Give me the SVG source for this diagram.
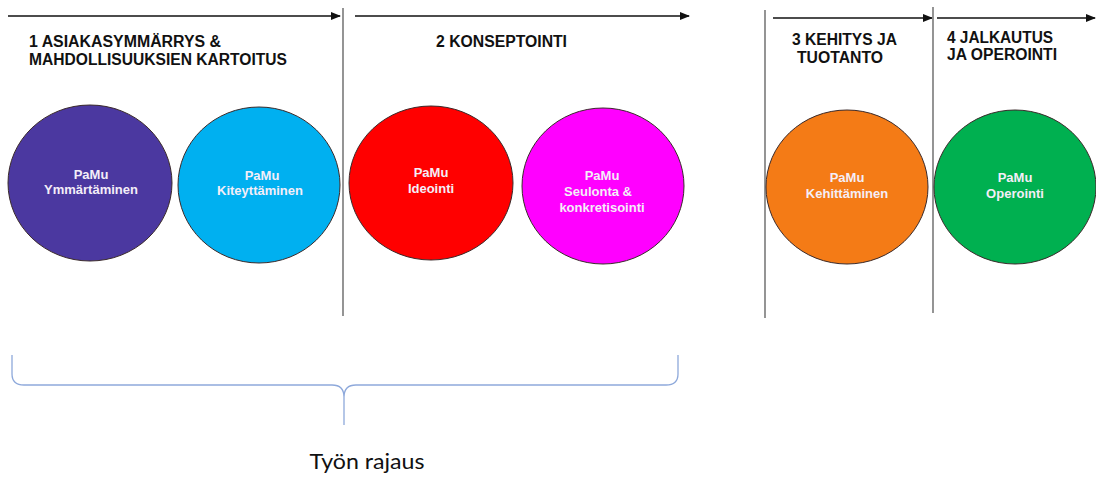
<svg xmlns="http://www.w3.org/2000/svg" width="1096" height="477" viewBox="0 0 1096 477">
<style>
.phase{font-family:"Liberation Sans",Arial,sans-serif;font-weight:bold;font-size:16px;fill:#111}
.node ellipse{stroke:#3a2a2a;stroke-width:1}
.node text{font-family:"Liberation Sans",Arial,sans-serif;font-weight:bold;font-size:13px;fill:#f4eef8;text-anchor:middle}
.arrow{stroke:#111;stroke-width:1.5;fill:none;marker-end:url(#ah)}
.divider{stroke:#7a7a7a;stroke-width:1.6}
.brace{stroke:#8ea9db;stroke-width:1.3;fill:none}
.label{font-family:"Lato","Open Sans",sans-serif;font-size:22px;fill:#111;text-anchor:middle}
</style>
<defs>
<marker id="ah" markerWidth="10" markerHeight="8" refX="9" refY="4" orient="auto" markerUnits="userSpaceOnUse">
<path d="M0,0 L10,4 L0,8 Z" fill="#111"/>
</marker>
</defs>
<rect width="1096" height="477" fill="#fff"/>
<g id="connectors">
<line class="arrow" x1="8" y1="16" x2="340" y2="16"/>
<line class="arrow" x1="355" y1="16" x2="689" y2="16"/>
<line class="arrow" x1="773" y1="18" x2="932" y2="18"/>
<line class="arrow" x1="937" y1="18" x2="1095" y2="18"/>
<line class="divider" x1="343" y1="8" x2="343" y2="316"/>
<line class="divider" x1="765" y1="10" x2="765" y2="318"/>
<line class="divider" x1="933" y1="7" x2="933" y2="313"/>
<path class="brace" d="M12,355 L12,374 Q12,385 24,385 L332,385 Q344,385 344,397 L344,425 M344,397 Q344,385 356,385 L666,385 Q678,385 678,374 L678,355"/>
</g>
<g id="phase1">
<text class="phase" x="29" y="47" textLength="192" lengthAdjust="spacingAndGlyphs">1 ASIAKASYMMÄRRYS &amp;</text>
<text class="phase" x="29" y="65" textLength="258" lengthAdjust="spacingAndGlyphs">MAHDOLLISUUKSIEN KARTOITUS</text>
</g>
<g id="phase2">
<text class="phase" x="436" y="47" textLength="131" lengthAdjust="spacingAndGlyphs">2 KONSEPTOINTI</text>
</g>
<g id="phase3">
<text class="phase" x="792" y="45" textLength="105" lengthAdjust="spacingAndGlyphs">3 KEHITYS JA</text>
<text class="phase" x="797" y="63" textLength="86" lengthAdjust="spacingAndGlyphs">TUOTANTO</text>
</g>
<g id="phase4">
<text class="phase" x="947" y="43" textLength="106" lengthAdjust="spacingAndGlyphs">4 JALKAUTUS</text>
<text class="phase" x="947" y="60" textLength="110" lengthAdjust="spacingAndGlyphs">JA OPEROINTI</text>
</g>
<g id="n-ymmartaminen" class="node">
<ellipse cx="90" cy="183" rx="82" ry="78" fill="#4b38a0"/>
<text x="91" y="179">PaMu</text>
<text x="91" y="194">Ymmärtäminen</text>
</g>
<g id="n-kiteyttaminen" class="node">
<ellipse cx="259" cy="185" rx="81" ry="78" fill="#00b0f0"/>
<text x="262" y="180">PaMu</text>
<text x="260" y="195">Kiteyttäminen</text>
</g>
<g id="n-ideointi" class="node">
<ellipse cx="431" cy="183" rx="82" ry="77" fill="#ff0000"/>
<text x="431" y="177">PaMu</text>
<text x="431" y="193">Ideointi</text>
</g>
<g id="n-seulonta" class="node">
<ellipse cx="603" cy="186" rx="81" ry="78" fill="#ff00ff"/>
<text x="602" y="180">PaMu</text>
<text x="598" y="196">Seulonta &amp;</text>
<text x="602" y="212">konkretisointi</text>
</g>
<g id="n-kehittaminen" class="node">
<ellipse cx="847" cy="187" rx="81" ry="77" fill="#f47b16"/>
<text x="847" y="182">PaMu</text>
<text x="847" y="198">Kehittäminen</text>
</g>
<g id="n-operointi" class="node">
<ellipse cx="1015" cy="187" rx="81" ry="77" fill="#00b050"/>
<text x="1015" y="182">PaMu</text>
<text x="1015" y="198">Operointi</text>
</g>
<g id="label-rajaus">
<text class="label" x="367" y="469" textLength="115" lengthAdjust="spacingAndGlyphs">Työn rajaus</text>
</g>
</svg>
